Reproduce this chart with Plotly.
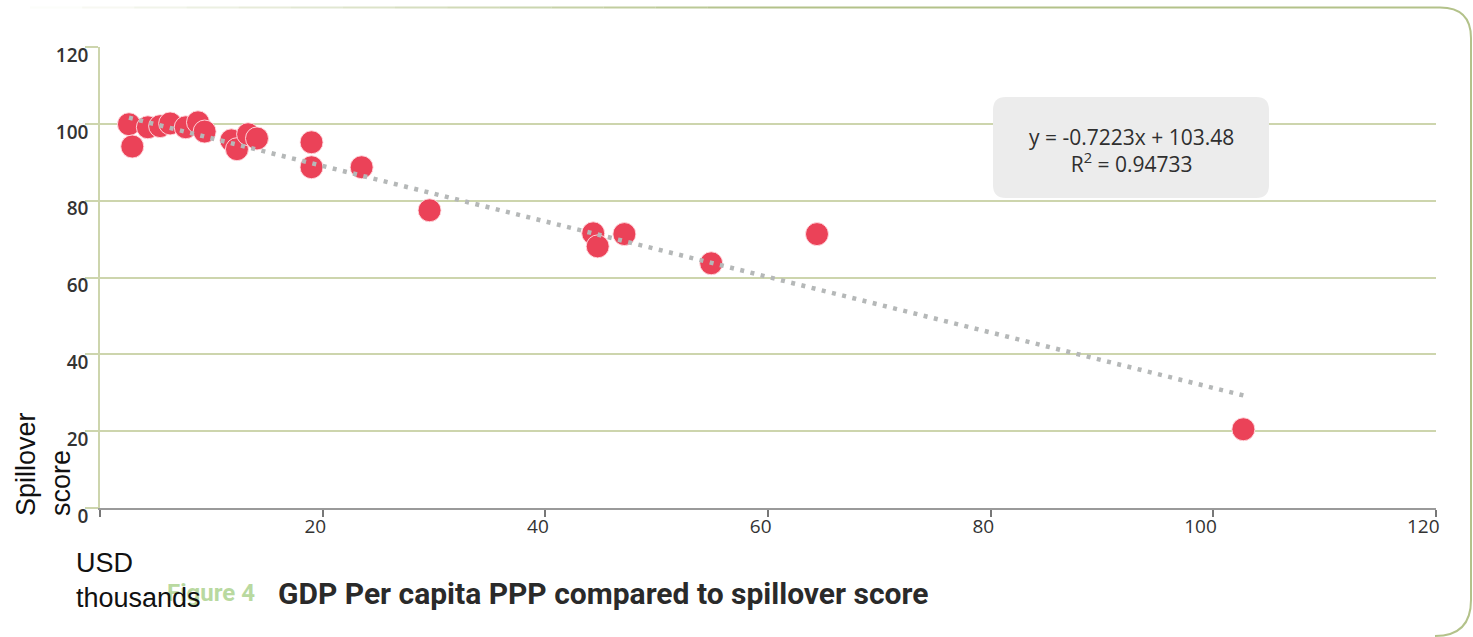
import plotly.graph_objects as go

# ---------------- data ----------------
gdp_usd_thousands = [2.6, 2.9, 4.3, 5.4, 6.3, 7.7, 8.8, 9.4, 11.8, 12.3, 13.3, 14.1,
                     19.0, 19.0, 23.5, 29.6, 44.3, 44.7, 47.1, 54.9, 64.4, 102.7]
spillover_score = [99.9, 94.1, 99.1, 99.4, 100.1, 99.1, 100.4, 98.0, 95.7, 93.4, 97.3, 96.2,
                   95.2, 88.7, 88.7, 77.5, 71.5, 68.1, 71.3, 63.7, 71.3, 20.5]
trend_slope = -0.7223
trend_intercept = 103.48
r_squared = 0.94733
tick_values = [0, 20, 40, 60, 80, 100, 120]
x_tick_text = ["", "20", "40", "60", "80", "100", "120"]
y_tick_text = ["0", "20", "40", "60", "80", "100", "120"]

W, H = 1473, 637
ML, MR, MT, MB = 100, 37, 47, 129
PW, PH = W - ML - MR, H - MT - MB


def px(xp):
    return (xp - ML) / PW


def py(yp):
    return (H - MB - yp) / PH


trend_x = [min(gdp_usd_thousands), max(gdp_usd_thousands)]
trend_y = [trend_slope * v + trend_intercept for v in trend_x]

fig = go.Figure()
fig.add_trace(go.Scatter(
    x=gdp_usd_thousands, y=spillover_score, mode="markers",
    marker=dict(color="#eb4258", size=23, line=dict(color="rgba(255,225,230,0.9)", width=1)),
    showlegend=False))
fig.add_trace(go.Scatter(
    x=trend_x, y=trend_y, mode="lines",
    line=dict(color="#b5b8b8", width=4.5, dash="4px,6.5px"),
    hoverinfo="skip", showlegend=False))


def rounded_rect(x0, y0, x1, y1, r):
    p = f"M {px(x0 + r)},{py(y0)} L {px(x1 - r)},{py(y0)} Q {px(x1)},{py(y0)} {px(x1)},{py(y0 + r)} "
    p += f"L {px(x1)},{py(y1 - r)} Q {px(x1)},{py(y1)} {px(x1 - r)},{py(y1)} "
    p += f"L {px(x0 + r)},{py(y1)} Q {px(x0)},{py(y1)} {px(x0)},{py(y1 - r)} "
    p += f"L {px(x0)},{py(y0 + r)} Q {px(x0)},{py(y0)} {px(x0 + r)},{py(y0)} Z"
    return p


shapes = []
# equation box
shapes.append(dict(type="path", xref="paper", yref="paper", path=rounded_rect(993, 97, 1269, 198, 13),
                   fillcolor="#ececec", line=dict(width=0), layer="above"))

# outer frame: fading top line
border = "179,194,138"
x_start, x_solid = 30, 760
nseg = 14
for i in range(nseg):
    a = x_start + (x_solid - x_start) * i / nseg
    b = x_start + (x_solid - x_start) * (i + 1) / nseg
    op = (i + 0.5) / nseg
    shapes.append(dict(type="line", xref="paper", yref="paper",
                       x0=px(a), x1=px(b), y0=py(7.5), y1=py(7.5),
                       line=dict(color=f"rgba({border},{op:.2f})", width=2)))
frame = (f"M {px(x_solid)},{py(7.5)} L {px(1440)},{py(7.5)} Q {px(1471)},{py(7.5)} {px(1471)},{py(38)} "
         f"L {px(1471)},{py(600)} Q {px(1471)},{py(636)} {px(1435)},{py(636)}")
shapes.append(dict(type="path", xref="paper", yref="paper", path=frame,
                   line=dict(color=f"rgb({border})", width=2)))

annotations = [
    dict(xref="paper", yref="paper", x=px(1131), y=py(150), xanchor="center", yanchor="middle",
         text=f"y = {trend_slope}x + {trend_intercept}<br>R<sup>2</sup> = {r_squared}",
         showarrow=False, align="center",
         font=dict(family="Open Sans", size=21, color="#2f2f2f")),
    dict(xref="paper", yref="paper", x=px(43), y=py(518), xanchor="center", yanchor="bottom",
         text="Spillover<br>score", textangle=-90, showarrow=False, align="left",
         font=dict(family="Liberation Sans", size=27, color="#111")),
    dict(xref="paper", yref="paper", x=px(165), y=py(593), xanchor="left", yanchor="middle",
         text="<b>Figure 4</b>", showarrow=False,
         font=dict(family="Roboto", size=24, color="#b9d9a0")),
    dict(xref="paper", yref="paper", x=px(74), y=py(546), xanchor="left", yanchor="top",
         text="USD<br>thousands", showarrow=False, align="left",
         font=dict(family="Liberation Sans", size=27, color="#111")),
    dict(xref="paper", yref="paper", x=px(276), y=py(593), xanchor="left", yanchor="middle",
         text="<b>GDP Per capita PPP compared to spillover score</b>", showarrow=False,
         font=dict(family="Roboto", size=30, color="#2a2a2a")),
]

fig.update_layout(
    width=W, height=H,
    margin=dict(l=ML, r=MR, t=MT, b=MB, pad=0),
    paper_bgcolor="white", plot_bgcolor="white",
    shapes=shapes, annotations=annotations,
    xaxis=dict(range=[0, 120], tickvals=tick_values, ticktext=x_tick_text,
               showgrid=False, zeroline=False,
               showline=True, linecolor="#9a9a9a", linewidth=1.5,
               ticks="outside", ticklen=7, tickcolor="#777", tickwidth=1.5,
               ticklabelposition="outside left", ticklabelshift=5, ticklabelstandoff=0,
               tickfont=dict(family="Open Sans", size=19, color="#333")),
    yaxis=dict(range=[0, 120], tickvals=tick_values, ticktext=y_tick_text,
               showgrid=True, gridcolor="#cdd5ad", gridwidth=1.5, zeroline=False,
               showline=True, linecolor="#cdd5ad", linewidth=1.5,
               ticks="outside", ticklen=13, tickcolor="#cdd5ad", tickwidth=1.5,
               ticklabelposition="outside bottom", ticklabelshift=-6, ticklabelstandoff=6,
               tickfont=dict(family="Open Sans", size=19, color="#333", weight=600)),
)

fig.write_html("out.html")
